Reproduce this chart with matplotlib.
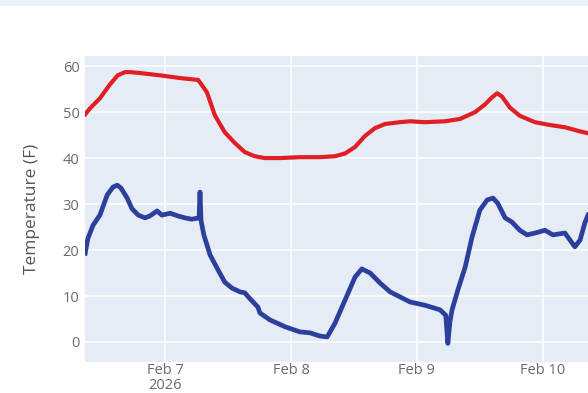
import matplotlib.pyplot as plt
import pandas as pd
from matplotlib.patches import Rectangle

# hours since 2026-02-06 00:00 and temperature readings (F)
upper_hours = [8.8, 9.7, 11.6, 13.5, 15.0, 16.4, 17.3, 19.2, 23.0, 26.9, 30.3,
               30.7, 32.0, 33.5, 35.4, 37.3, 39.2, 41.1, 43.0, 45.9, 49.7, 53.5,
               56.4, 58.3, 60.2, 62.1, 64.0, 65.9, 68.7, 70.7, 73.5, 77.3, 80.2,
               83.1, 85.0, 86.3, 87.3, 88.2, 89.7, 91.6, 94.5, 97.3, 100.2, 103.1,
               104.6]
upper_temp = [49.5, 50.8, 53.0, 56.0, 58.0, 58.7, 58.7, 58.5, 58.0, 57.4, 57.0,
              56.4, 54.3, 49.3, 45.6, 43.3, 41.3, 40.4, 40.0, 40.0, 40.2, 40.2,
              40.4, 41.0, 42.4, 44.8, 46.5, 47.4, 47.8, 48.0, 47.8, 48.0, 48.5,
              50.0, 51.7, 53.2, 54.1, 53.4, 51.0, 49.2, 47.8, 47.2, 46.7, 45.8,
              45.4]

lower_hours = [8.8, 9.3, 10.3, 11.6, 13.0, 14.1, 14.9, 15.6, 16.8, 17.7, 18.9,
               20.2, 21.1, 22.5, 23.4, 25.0, 26.5, 27.8, 29.1, 30.5, 30.67, 30.86,
               31.4, 32.6, 34.1, 35.4, 36.8, 38.3, 39.2, 40.2, 41.7, 42.1, 44.0,
               46.9, 49.7, 51.6, 53.5, 54.9, 56.4, 58.3, 60.2, 61.5, 63.1, 65.0,
               66.9, 68.8, 70.7, 73.5, 76.4, 77.5, 77.9, 78.3, 78.7, 79.8, 81.2,
               82.5, 84.0, 85.4, 86.5, 87.4, 88.8, 90.1, 91.6, 93.0, 94.5, 96.4,
               97.9, 100.2, 102.1, 103.1, 104.0, 104.6]
lower_temp = [19.3, 22.5, 25.4, 27.6, 32.0, 33.7, 34.1, 33.5, 31.3, 29.0, 27.6,
              27.0, 27.4, 28.5, 27.6, 28.0, 27.4, 27.0, 26.7, 27.0, 32.6, 26.5,
              23.3, 18.9, 15.7, 13.0, 11.7, 10.9, 10.7, 9.4, 7.6, 6.3, 4.8,
              3.3, 2.2, 2.0, 1.3, 1.1, 4.1, 9.1, 14.1, 15.9, 15.0, 12.8,
              10.9, 9.8, 8.7, 8.0, 7.0, 5.8, -0.3, 4.5, 7.0, 11.3, 16.3,
              22.8, 28.7, 30.9, 31.3, 30.2, 27.0, 26.1, 24.3, 23.3, 23.7, 24.3,
              23.3, 23.7, 20.7, 22.2, 25.9, 27.6]

base = pd.Timestamp("2026-02-06")
upper_t = base + pd.to_timedelta(upper_hours, unit="h")
lower_t = base + pd.to_timedelta(lower_hours, unit="h")

plt.rcParams["font.family"] = ["Open Sans", "DejaVu Sans"]

fig = plt.figure(figsize=(5.88, 3.93), dpi=100)
fig.patch.set_facecolor("white")
fig.patches.append(Rectangle((0, 1 - 6 / 393), 1, 6 / 393, transform=fig.transFigure,
                             facecolor="#eaf1fa", edgecolor="none", zorder=0))

ax = fig.add_axes([85 / 588, 31 / 393, 1 - 85 / 588, 306 / 393])
ax.set_facecolor("#e5ecf6")
for s in ax.spines.values():
    s.set_visible(False)

ax.plot(upper_t, upper_temp, color="#e01e24", lw=3.0, solid_joinstyle="round")
ax.plot(lower_t, lower_temp, color="#2c3f9c", lw=3.4, solid_joinstyle="round")

ax.set_xlim(base + pd.Timedelta(hours=8.76), base + pd.Timedelta(hours=104.6))
ax.set_ylim(-4.35, 62.2)

ax.set_yticks([0, 10, 20, 30, 40, 50, 60])
ticks = [pd.Timestamp("2026-02-07"), pd.Timestamp("2026-02-08"),
         pd.Timestamp("2026-02-09"), pd.Timestamp("2026-02-10")]
ax.set_xticks(ticks)
ax.set_xticklabels(["Feb 7\n2026", "Feb 8", "Feb 9", "Feb 10"], linespacing=0.95)

ax.grid(True, color="white", lw=1.1)
ax.set_axisbelow(True)
ax.tick_params(length=0, labelsize=10.5, labelcolor="#6a6a6a")
ax.tick_params(axis="y", pad=4)
ax.tick_params(axis="x", pad=1)

ax.set_ylabel("Temperature (F)", fontsize=12.5, color="#555555", labelpad=16)

fig.savefig("out.png", dpi=100)
